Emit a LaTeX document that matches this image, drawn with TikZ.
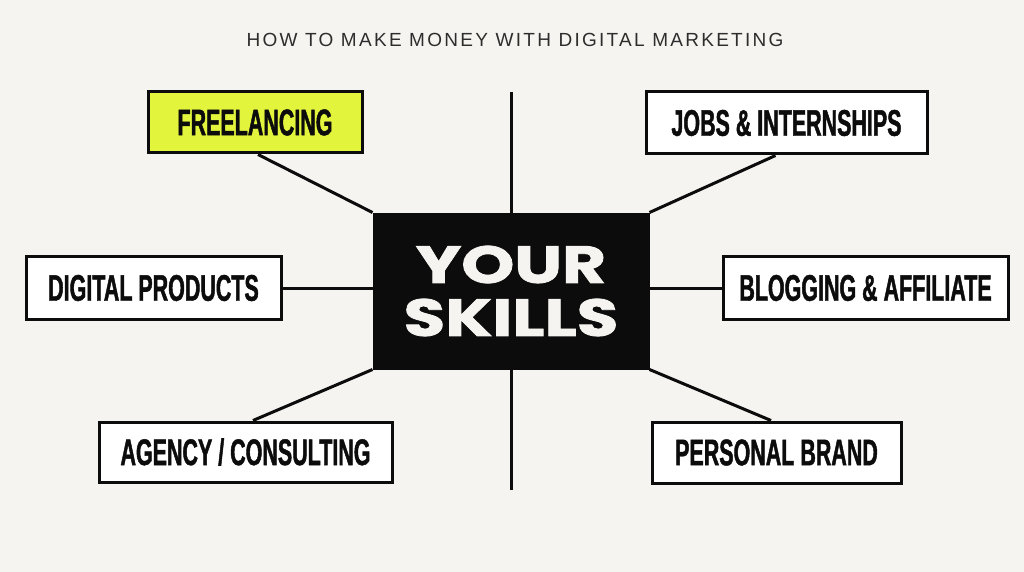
\documentclass[tikz,border=0pt]{standalone}
\usepackage{fontspec}
\setmainfont{Liberation Sans}
\newfontfamily\titlefont[LetterSpace=12]{Liberation Sans}
\newfontfamily\condfont[FakeStretch=0.58,FakeBold=1.2]{Liberation Sans}
\newfontfamily\heavyfont[FakeStretch=1.3,FakeBold=1.6]{Poppins}
\definecolor{bg}{RGB}{245,244,240}
\definecolor{lime}{RGB}{226,245,60}
\definecolor{ink}{RGB}{12,12,12}
\definecolor{titlegray}{RGB}{45,45,45}
\tikzset{
  lbl/.style={draw=ink, line width=3pt, fill=white, text=ink, inner sep=0pt,
    font=\condfont\bfseries\fontsize{37}{40}\selectfont},
  conn/.style={draw=ink, line width=3pt},
}
\begin{document}
\begin{tikzpicture}[x=1pt,y=-1pt]
\fill[bg] (0,0) rectangle (1024,572);
\useasboundingbox (0,0) rectangle (1024,572);
\node[font=\titlefont\fontsize{19}{21}\selectfont, text=titlegray] (title) at (515,40) {HOW TO MAKE MONEY WITH DIGITAL MARKETING};
\coordinate (vtop) at (511,92);
\coordinate (vbot) at (511,490);
\draw[conn] (vtop) -- (vbot);
\node[draw=ink, fill=ink, line width=3pt, minimum width=274pt, minimum height=154pt, inner sep=0pt,
  text=bg, align=center, font=\heavyfont\bfseries\fontsize{52}{53}\selectfont] (c) at (511,291) {YOUR\\SKILLS};
\node[lbl, fill=lime, minimum width=214pt, minimum height=61pt] (fr) at (255,122.5) {FREELANCING};
\node[lbl, minimum width=281pt, minimum height=62pt] (jobs) at (786.5,123) {JOBS \& INTERNSHIPS};
\node[lbl, minimum width=255pt, minimum height=63pt] (dig) at (153.5,288) {DIGITAL PRODUCTS};
\node[lbl, minimum width=285pt, minimum height=63pt] (blog) at (865.5,288) {BLOGGING \& AFFILIATE};
\node[lbl, minimum width=293pt, minimum height=60pt] (ag) at (245.5,452) {AGENCY / CONSULTING};
\node[lbl, minimum width=249pt, minimum height=61pt] (pb) at (776.5,452.5) {PERSONAL BRAND};
\draw[conn] ([xshift=3pt]fr.south) -- (c.north west);
\draw[conn] ([xshift=-11pt]jobs.south) -- (c.north east);
\draw[conn] (dig.east) -- (dig.east -| c.west);
\draw[conn] (blog.west -| c.east) -- (blog.west);
\draw[conn] ([xshift=7.5pt]ag.north) -- (c.south west);
\draw[conn] ([xshift=-5.5pt]pb.north) -- (c.south east);
\end{tikzpicture}
\end{document}
